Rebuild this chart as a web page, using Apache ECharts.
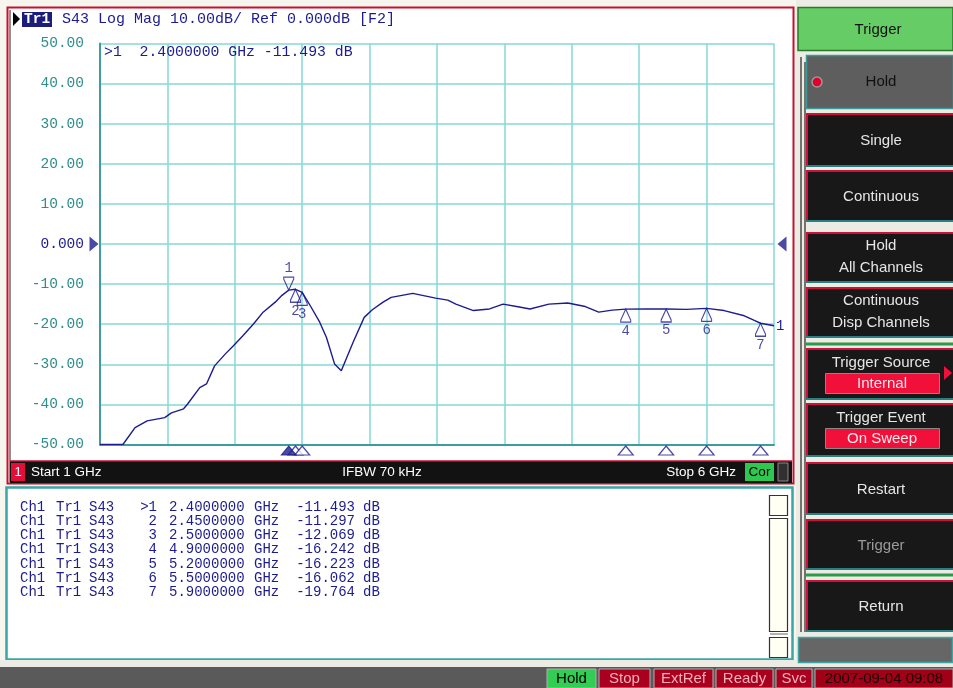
<!DOCTYPE html>
<html><head><meta charset="utf-8">
<script src="https://cdn.jsdelivr.net/npm/echarts@6/dist/echarts.min.js"></script>
<style>html,body{margin:0;padding:0;background:#f6f6ee;}#c{width:953px;height:688px;}</style>
</head><body><div id="c"></div>
<script>
// ---- data ----
var freqGHz = [1.00,1.10,1.17,1.26,1.35,1.48,1.53,1.62,1.65,1.74,1.79,1.85,1.93,1.99,2.06,2.14,2.21,2.30,2.35,2.40,2.45,2.50,2.56,2.63,2.68,2.74,2.79,2.88,2.96,3.02,3.10,3.16,3.32,3.49,3.58,3.64,3.77,3.89,3.99,4.09,4.19,4.33,4.47,4.60,4.70,4.80,4.90,5.06,5.20,5.35,5.50,5.63,5.78,5.85,5.90,6.00];
var s43dB = [-50,-50,-50,-45.8,-44.1,-43.3,-42.1,-41.1,-39.9,-35.8,-34.9,-30.4,-27.4,-25.4,-22.9,-19.9,-17.0,-14.5,-12.8,-11.49,-11.30,-12.07,-15.4,-19.5,-23.3,-29.9,-31.6,-24.3,-18.3,-16.4,-14.5,-13.3,-12.3,-13.5,-14.0,-15.0,-16.6,-16.2,-15.0,-15.6,-16.2,-15.0,-14.7,-15.6,-17.0,-16.5,-16.24,-16.2,-16.22,-16.3,-16.06,-16.6,-17.9,-19.0,-19.76,-20.4];
var markerId = ['1','2','3','4','5','6','7'];
var markerFreq = [2.40,2.45,2.50,4.90,5.20,5.50,5.90];
var markerVal = [-11.493,-11.297,-12.069,-16.242,-16.223,-16.062,-19.764];
var yTicks = [-50,-40,-30,-20,-10,0,10,20,30,40,50];
var startGHz = 1, stopGHz = 6, refLevel = 0;

// ---- styles ----
var NAVY = '#1c1c90', TEAL = '#2e8e8e', GRIDC = '#86d8d8', AXC = '#3c9e9e';
var MONO = '"Liberation Mono","DejaVu Sans Mono",monospace';
var SANS = '"Liberation Sans",Arial,sans-serif';

var G = [];
function rect(x,y,w,h,fill,stroke,lw){G.push({type:'rect',shape:{x:x,y:y,width:w,height:h},style:{fill:fill||'none',stroke:stroke||null,lineWidth:lw||1},silent:true});}
function txt(x,y,s,o){o=o||{};G.push({type:'text',x:x,y:y,style:{text:s,fill:o.c||'#000',font:(o.w||'normal')+' '+(o.s||13)+'px '+(o.f||SANS),textAlign:o.a||'left',textVerticalAlign:'middle'},silent:true,z:o.z||10});}
function line(x1,y1,x2,y2,c,lw){G.push({type:'line',shape:{x1:x1,y1:y1,x2:x2,y2:y2},style:{stroke:c,lineWidth:lw||1},silent:true});}

// chart window
rect(7.5,7.5,786,476,'#ffffff','#c8102e',2);
line(10,10,10,482,'#202020',1);
// header
G.push({type:'polygon',shape:{points:[[13,12],[20,19],[13,26]]},style:{fill:'#000'},silent:true});
rect(22,12,30,15,'#1c1c7a');
txt(24,19.5,'Tr1',{c:'#fff',s:14.5,f:MONO,w:'bold'});
txt(62,19.5,'S43 Log Mag 10.00dB/ Ref 0.000dB [F2]',{c:NAVY,s:15,f:MONO});
txt(104,52.5,'>1  2.4000000 GHz -11.493 dB',{c:NAVY,s:14.8,f:MONO,z:30});
// bottom bar
rect(10,461,782,22,'#121212');
line(10,461,792,461,'#c8102e',1.5);
rect(11,463,14,18,'#e0103a');
txt(14.5,472,'1',{c:'#fff',s:13});
txt(31,472,'Start '+startGHz+' GHz',{c:'#fff',s:13.5});
txt(382,472,'IFBW 70 kHz',{c:'#fff',s:13.5,a:'center'});
txt(736,472,'Stop '+stopGHz+' GHz',{c:'#fff',s:13.5,a:'right'});
rect(745,463,29,18,'#2ec850');
txt(759.5,472,'Cor',{c:'#000',s:13.5,a:'center'});
rect(778,463,10,18,'#303030','#888',1);

// table panel
rect(6.5,487.5,786,172,'#ffffff','#3aa6a6',2.5);
var rowY0 = 507, rowDy = 14.2;
for (var i=0;i<markerId.length;i++){
  var y = rowY0 + i*rowDy, o={c:NAVY,s:14,f:MONO};
  txt(20,y,'Ch1',o); txt(56,y,'Tr1',o); txt(89,y,'S43',o);
  txt(157,y,(i===0?'>':'')+markerId[i],{c:NAVY,s:14,f:MONO,a:'right'});
  txt(169,y,markerFreq[i].toFixed(7),o);
  txt(254,y,'GHz',o);
  txt(355,y,markerVal[i].toFixed(3),{c:NAVY,s:14,f:MONO,a:'right'});
  txt(363,y,'dB',o);
}
// scrollbar
rect(769.5,495.5,18,20,'#fffff4','#333',1.2);
rect(769.5,518.5,18,113,'#fffff4','#333',1.2);
line(770,634,788,634,'#666',1);
rect(769.5,637.5,18,20,'#fffff4','#333',1.2);

// right soft-key panel
rect(796,0,157,667,'#ecece4');
rect(798,7.5,155,43,'#66cc66','#2a7a2a',1.5);
txt(878,30,'Trigger',{c:'#111',s:15,a:'center'});
line(801,57,801,632,'#222',1.2); line(805,62,805,632,'#222',1.2);
var btns = [
  {y:55,h:53,t:['Hold'],hold:true},
  {y:113,h:54,t:['Single']},
  {y:170,h:52,t:['Continuous']},
  {y:232,h:51,t:['Hold','All Channels']},
  {y:287,h:51,t:['Continuous','Disp Channels']},
  {y:348,h:52,t:['Trigger Source'],box:'Internal',arrow:true},
  {y:403,h:54,t:['Trigger Event'],box:'On Sweep'},
  {y:462,h:53,t:['Restart']},
  {y:519,h:51,t:['Trigger'],dim:true},
  {y:580,h:52,t:['Return']}
];
btns.forEach(function(b){
  if (b.hold){
    rect(806.5,b.y+0.5,147,b.h,'#5e5e5e','#3a9a9a',1.5);
    G.push({type:'circle',shape:{cx:817,cy:b.y+27,r:5},style:{fill:'#e0002a',stroke:'#999',lineWidth:1.5},silent:true});
    txt(881,b.y+27,b.t[0],{c:'#111',s:15,a:'center'});
    return;
  }
  rect(806,b.y,147,b.h,'#181818');
  line(807,b.y+1,953,b.y+1,'#d0103a',2);
  line(807,b.y,807,b.y+b.h,'#d0103a',2);
  line(806,b.y+b.h-1,953,b.y+b.h-1,'#2a8080',2);
  var col = b.dim ? '#9a9a9a' : '#e6e6e6';
  if (b.box){
    txt(881,b.y+15,b.t[0],{c:col,s:15,a:'center'});
    rect(825.5,b.y+25.5,114,20,'#f0103a','#888',1);
    txt(882,b.y+36,b.box,{c:'#ffe8ec',s:15,a:'center'});
    if (b.arrow) G.push({type:'polygon',shape:{points:[[944,b.y+18],[952,b.y+25],[944,b.y+32]]},style:{fill:'#f0103a'},silent:true});
  } else if (b.t.length===2){
    txt(881,b.y+14,b.t[0],{c:col,s:15,a:'center'});
    txt(881,b.y+36,b.t[1],{c:col,s:15,a:'center'});
  } else {
    txt(881,b.y+b.h/2+1,b.t[0],{c:col,s:15,a:'center'});
  }
});
line(806,344,953,344,'#2a9a4a',3);
line(806,575,953,575,'#2a9a4a',3);
rect(798.5,637.5,154,25,'#666666','#3aa6a6',1.5);

// status bar
rect(0,667,953,21,'#5a5a5a');
rect(0,660,796,7,'#ecece4');
var stat = [{x:547,w:49,t:'Hold',f:'#33cc55',c:'#000'},{x:599,w:51,t:'Stop',f:'#a8001e',c:'#f0b0b8'},{x:654,w:59,t:'ExtRef',f:'#a8001e',c:'#f0b0b8'},{x:716,w:57,t:'Ready',f:'#a8001e',c:'#f0b0b8'},{x:776,w:36,t:'Svc',f:'#a8001e',c:'#f0b0b8'},{x:815,w:138,t:'2007-09-04 09:08',f:'#a00018',c:'#1a0000'}];
stat.forEach(function(s){rect(s.x,669,s.w,19,s.f,'#b0b0b0',1);txt(s.x+s.w/2,679,s.t,{c:s.c,s:15,a:'center'});});

// ---- chart ----
var chart = echarts.init(document.getElementById('c'));
var trace = freqGHz.map(function(f,i){return [f,s43dB[i]];});
var mk = markerFreq.map(function(f,i){return [f,markerVal[i],markerId[i]];});
var downPath = 'path://M0,0 L10,0 L10,2 L5,13 L0,2 Z';
var upPath = 'path://M5,0 L10,11 L10,13 L0,13 L0,11 Z';
chart.setOption({
  animation:false,
  grid:{left:100,top:43.5,width:674,height:401,show:true,backgroundColor:'#fff',borderColor:AXC,borderWidth:2},
  xAxis:{type:'value',min:startGHz,max:stopGHz,interval:0.5,axisLabel:{show:false},axisTick:{show:false},
    axisLine:{show:true,onZero:false,lineStyle:{color:AXC,width:2}},splitLine:{show:true,lineStyle:{color:GRIDC,width:1.5}}},
  yAxis:{type:'value',min:yTicks[0],max:yTicks[yTicks.length-1],interval:10,axisTick:{show:false},
    axisLine:{show:true,onZero:false,lineStyle:{color:AXC,width:2}},splitLine:{show:true,lineStyle:{color:GRIDC,width:1.5}},
    axisLabel:{margin:16,fontFamily:MONO,fontSize:14.5,
      color:function(v){return Number(v)===refLevel?NAVY:TEAL;},
      formatter:function(v){return v===0?'0.000':v.toFixed(2);}}},
  series:[
    {type:'line',data:trace,symbol:'none',lineStyle:{color:NAVY,width:1.4},z:5,
     endLabel:{show:true,formatter:'1',color:NAVY,fontFamily:MONO,fontSize:14,distance:2}},
    {type:'scatter',data:mk.slice(0,1),symbol:downPath,symbolSize:[10,13],symbolOffset:[0,'-50%'],
     itemStyle:{color:'rgba(0,0,0,0)',borderColor:NAVY,borderWidth:1.2},z:8,clip:false,
     label:{show:true,position:'top',distance:1,formatter:function(p){return p.data[2];},color:NAVY,fontFamily:MONO,fontSize:14}},
    {type:'scatter',data:mk.slice(1),symbol:upPath,symbolSize:[10,13],symbolOffset:[0,'50%'],
     itemStyle:{color:'rgba(0,0,0,0)',borderColor:NAVY,borderWidth:1.2},z:8,clip:false,
     label:{show:true,position:'bottom',distance:1,formatter:function(p){return p.data[2];},color:NAVY,fontFamily:MONO,fontSize:14}},
    // stimulus-axis marker triangles
    {type:'scatter',data:mk.map(function(m){return [m[0],yTicks[0]];}).slice(1),symbol:'triangle',symbolSize:[15,9],symbolOffset:[0,6],
     itemStyle:{color:'#fff',borderColor:NAVY,borderWidth:1.2},z:9,clip:false},
    {type:'scatter',data:[[markerFreq[0],yTicks[0]]],symbol:'triangle',symbolSize:[15,9],symbolOffset:[0,6],
     itemStyle:{color:NAVY,borderColor:NAVY,borderWidth:1},z:10,clip:false},
    // reference level indicators
    {type:'scatter',data:[[startGHz,refLevel]],symbol:'path://M0,0 L10,7 L0,14 Z',symbolSize:[9,15],symbolOffset:[-6,0],
     itemStyle:{color:NAVY},clip:false,z:9},
    {type:'scatter',data:[[stopGHz,refLevel]],symbol:'path://M10,0 L0,7 L10,14 Z',symbolSize:[9,15],symbolOffset:[8,0],
     itemStyle:{color:NAVY},clip:false,z:9}
  ],
  graphic:G
});
</script></body></html>
